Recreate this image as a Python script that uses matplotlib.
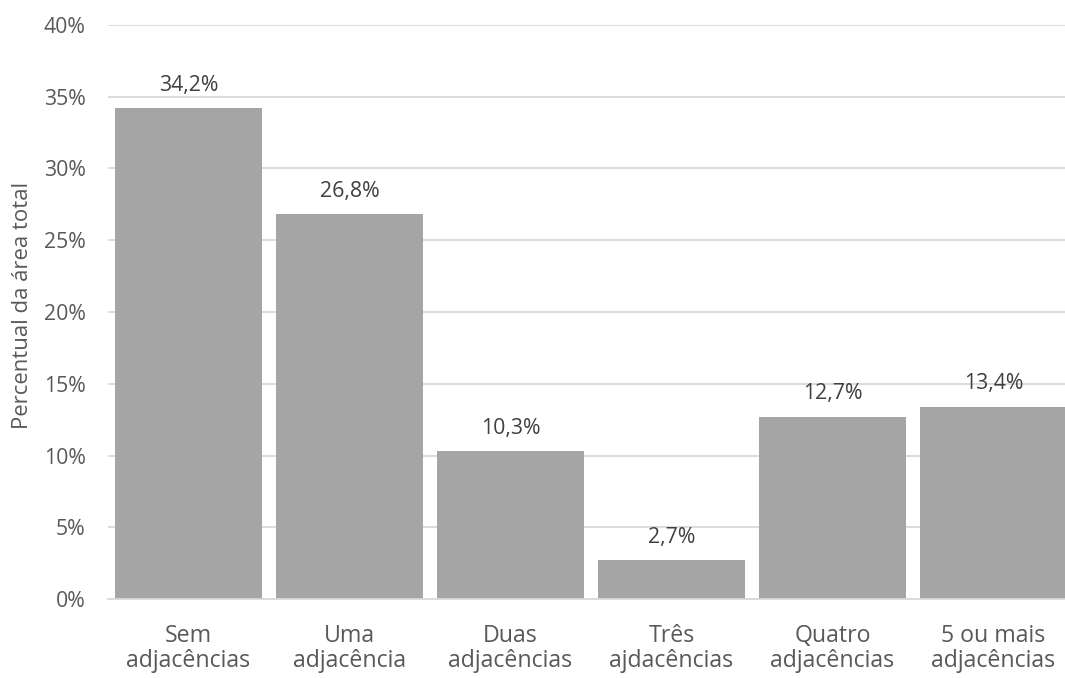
import matplotlib
matplotlib.use("Agg")
import matplotlib.pyplot as plt
from matplotlib.ticker import FuncFormatter, MultipleLocator

categories = ["Sem\nadjacências", "Uma\nadjacência", "Duas\nadjacências",
              "Três\najdacências", "Quatro\nadjacências", "5 ou mais\nadjacências"]
values = [34.2, 26.8, 10.3, 2.7, 12.7, 13.4]
y_label = "Percentual da área total"

plt.rcParams["font.family"] = ["Open Sans", "DejaVu Sans"]

bar_color = "#A5A5A5"
grid_color = "#D9D9D9"
text_color = "#595959"
label_color = "#404040"

fig = plt.figure(figsize=(10.65, 6.78), dpi=100)
ax = fig.add_axes([108 / 1065, 1 - 599 / 678, 966 / 1065, 574 / 678])

x = range(len(categories))
ax.bar(x, values, width=0.907, color=bar_color, zorder=2)

ax.set_xlim(-0.5, len(categories) - 0.5)
ax.set_ylim(0, 40)
ax.yaxis.set_major_locator(MultipleLocator(5))
ax.yaxis.set_major_formatter(FuncFormatter(lambda v, _: f"{v:.0f}%"))
ax.grid(axis="y", color=grid_color, linewidth=1.3, zorder=0)
ax.set_axisbelow(True)

for side in ["top", "right", "left"]:
    ax.spines[side].set_visible(False)
ax.spines["bottom"].set_color(grid_color)
ax.spines["bottom"].set_linewidth(1.3)

ax.tick_params(axis="y", length=0, pad=16, labelsize=15.3, labelcolor=text_color)
ax.tick_params(axis="x", length=0, pad=18, labelsize=16.7, labelcolor=text_color)
ax.set_xticks(list(x))
ax.set_xticklabels(categories, linespacing=1.05)

ax.set_ylabel(y_label, fontsize=15.9, color=text_color)
ax.yaxis.set_label_coords(-0.0776, 0.512)

for xi, v in zip(x, values):
    ax.annotate(f"{v:.1f}%".replace(".", ","), (xi, v), xytext=(0, 9),
                textcoords="offset points", ha="center", va="bottom",
                fontsize=15.3, color=label_color)

fig.savefig("out.png", dpi=100)
